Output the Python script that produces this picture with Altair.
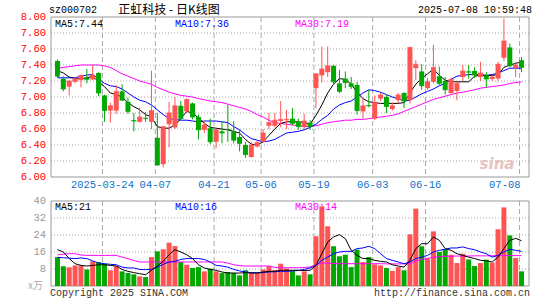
import altair as alt
import pandas as pd

# ---------------- data ----------------
dates = ["2025-03-12","2025-03-13","2025-03-14","2025-03-17","2025-03-18","2025-03-19","2025-03-20","2025-03-21",
         "2025-03-24","2025-03-25","2025-03-26","2025-03-27","2025-03-28","2025-03-31","2025-04-01","2025-04-02",
         "2025-04-03","2025-04-07","2025-04-08","2025-04-09","2025-04-10","2025-04-11","2025-04-14","2025-04-15",
         "2025-04-16","2025-04-17","2025-04-18","2025-04-21","2025-04-22","2025-04-23","2025-04-24","2025-04-25",
         "2025-04-28","2025-04-29","2025-04-30","2025-05-06","2025-05-07","2025-05-08","2025-05-09","2025-05-12",
         "2025-05-13","2025-05-14","2025-05-15","2025-05-16","2025-05-19","2025-05-20","2025-05-21","2025-05-22",
         "2025-05-23","2025-05-26","2025-05-27","2025-05-28","2025-05-29","2025-05-30","2025-06-03","2025-06-04",
         "2025-06-05","2025-06-06","2025-06-09","2025-06-10","2025-06-11","2025-06-12","2025-06-13","2025-06-16",
         "2025-06-17","2025-06-18","2025-06-19","2025-06-20","2025-06-23","2025-06-24","2025-06-25","2025-06-26",
         "2025-06-27","2025-06-30","2025-07-01","2025-07-02","2025-07-03","2025-07-04","2025-07-07","2025-07-08"]

opens = [7.45,7.23,7.13,7.19,7.21,7.24,7.22,7.30,7.02,6.83,6.83,7.07,6.94,6.71,6.69,6.74,6.69,6.49,6.16,6.66,
         6.62,6.89,6.82,6.92,6.75,6.59,6.61,6.44,6.57,6.60,6.57,6.50,6.40,6.25,6.38,6.44,6.64,6.64,6.70,6.71,
         6.73,6.69,6.63,6.68,7.11,7.27,7.31,7.39,7.17,7.23,7.17,7.15,6.82,6.90,6.73,6.98,7.00,6.85,6.96,7.05,
         6.96,7.36,7.32,7.11,7.19,7.26,7.20,7.05,7.075,7.25,7.32,7.325,7.25,7.27,7.225,7.23,7.49,7.62,7.36,7.46]
highs = [7.47,7.26,7.21,7.24,7.28,7.35,7.40,7.31,7.03,6.93,7.15,7.16,6.99,6.80,6.87,6.81,7.33,6.80,6.63,6.94,
         7.00,6.95,6.98,6.93,6.78,6.69,6.73,6.60,6.70,6.90,6.70,6.59,6.44,6.44,6.45,6.60,6.80,6.80,6.95,6.84,
         6.86,6.73,6.79,6.71,7.29,7.63,7.63,7.40,7.34,7.32,7.25,7.19,6.98,7.09,7.02,7.05,7.03,6.93,7.05,7.06,
         7.62,7.46,7.41,7.24,7.65,7.38,7.25,7.24,7.19,7.40,7.40,7.37,7.44,7.31,7.27,7.44,7.98,7.67,7.44,7.50]
lows = [7.24,7.07,7.02,7.17,7.12,7.17,7.21,7.01,6.69,6.68,6.79,6.95,6.79,6.57,6.68,6.69,6.60,6.14,6.12,6.37,
        6.60,6.72,6.80,6.72,6.47,6.55,6.41,6.36,6.42,6.44,6.42,6.32,6.24,6.24,6.37,6.43,6.60,6.62,6.62,6.60,
        6.65,6.59,6.60,6.59,6.86,7.18,7.25,7.15,7.05,7.11,7.10,6.78,6.73,6.87,6.71,6.95,6.80,6.83,6.92,6.86,
        6.92,7.21,7.09,7.09,7.17,7.15,7.03,7.03,6.96,7.20,7.23,7.24,7.20,7.12,7.20,7.20,7.45,7.37,7.25,7.31]
closes = [7.26,7.10,7.20,7.23,7.27,7.22,7.27,7.05,6.83,6.89,7.07,6.96,6.82,6.70,6.75,6.73,6.83,6.15,6.63,6.80,
          6.89,6.73,6.97,6.75,6.59,6.65,6.44,6.59,6.55,6.59,6.46,6.42,6.28,6.40,6.43,6.55,6.68,6.71,6.72,6.72,
          6.67,6.63,6.70,6.63,7.29,7.35,7.39,7.19,7.07,7.18,7.13,6.83,6.89,6.89,6.93,7.025,6.88,6.89,7.025,6.95,
          7.62,7.41,7.14,7.19,7.37,7.17,7.09,7.22,7.17,7.325,7.31,7.275,7.30,7.225,7.25,7.41,7.70,7.39,7.40,7.37]
volumes = [13.6,9.3,8.8,9.7,9.7,7.8,11.6,11.3,10.5,7.4,9.3,6.9,6.1,5.5,4.5,4.2,13.6,16.3,17.3,20.4,
           18.8,11.3,10.0,8.5,8.9,6.9,8.2,6.9,6.1,6.6,6.1,5.0,7.4,6.3,6.3,7.8,9.3,7.5,10.5,8.2,
           7.0,5.0,6.9,5.5,23.4,37.5,28.1,18.7,14.0,14.7,8.9,17.1,11.3,13.6,10.2,9.7,8.5,7.1,8.9,7.4,
           24.3,36.4,18.7,12.9,25.7,16.0,17.3,14.7,10.8,15.2,12.5,9.4,10.8,12.4,11.0,26.7,37.0,23.8,13.2,6.9]
ma5 = [7.33,7.30,7.25,7.23,7.23,7.24,7.26,7.19,7.13,7.05,7.03,7.00,6.93,6.88,6.84,6.78,6.75,6.63,6.61,6.61,
       6.65,6.73,6.82,6.80,6.74,6.67,6.62,6.61,6.60,6.59,6.57,6.55,6.47,6.41,6.40,6.44,6.52,6.60,6.67,6.69,
       6.69,6.69,6.68,6.66,6.77,6.90,7.05,7.16,7.23,7.22,7.16,7.06,6.98,6.94,6.93,6.92,6.92,6.92,6.92,6.93,
       7.05,7.16,7.23,7.29,7.35,7.27,7.21,7.19,7.19,7.19,7.19,7.26,7.27,7.27,7.27,7.28,7.37,7.40,7.42,7.44]
ma10 = [7.24,7.24,7.24,7.24,7.26,7.275,7.28,7.23,7.17,7.14,7.13,7.10,7.05,7.00,6.96,6.94,6.90,6.84,6.78,6.73,
        6.72,6.71,6.71,6.70,6.69,6.70,6.70,6.70,6.69,6.68,6.63,6.59,6.53,6.48,6.46,6.44,6.45,6.47,6.51,6.55,
        6.56,6.57,6.59,6.62,6.66,6.72,6.77,6.85,6.90,6.93,6.95,7.00,7.05,7.09,7.08,7.06,7.03,7.00,6.98,6.95,
        6.96,7.00,7.04,7.07,7.10,7.14,7.17,7.22,7.26,7.27,7.28,7.28,7.28,7.27,7.28,7.30,7.33,7.36,7.36,7.36]
ma30 = [7.36,7.37,7.38,7.39,7.40,7.40,7.40,7.40,7.39,7.37,7.33,7.29,7.26,7.23,7.20,7.18,7.16,7.12,7.09,7.06,
        7.04,7.02,7.01,7.00,6.98,6.965,6.95,6.94,6.93,6.91,6.89,6.87,6.85,6.82,6.78,6.75,6.71,6.68,6.67,6.66,
        6.65,6.64,6.63,6.63,6.64,6.66,6.68,6.69,6.70,6.71,6.71,6.72,6.72,6.73,6.74,6.75,6.76,6.77,6.79,6.82,
        6.85,6.88,6.91,6.94,6.97,6.99,7.01,7.03,7.05,7.06,7.075,7.09,7.11,7.12,7.13,7.14,7.15,7.17,7.18,7.19]
vma5 = [17.1,16.0,12.9,10.5,9.7,9.4,9.7,10.0,10.0,9.7,9.4,7.8,6.9,6.3,5.8,5.3,7.4,9.4,11.6,14.7,
        17.1,16.0,14.7,12.9,10.0,8.5,7.8,7.4,6.6,6.1,6.1,6.1,6.3,6.1,6.1,6.6,6.9,6.9,7.4,7.4,
        7.4,7.4,7.3,7.4,9.7,15.2,20.7,23.1,24.2,22.3,16.8,14.4,12.9,12.9,12.1,11.6,11.3,10.0,9.4,8.9,
        12.1,17.6,19.9,19.9,23.1,21.5,17.6,16.8,15.2,14.4,13.6,12.9,12.1,11.8,11.3,13.6,17.6,21.5,22.4,21.3]
vma10 = [13.5,13.3,13.1,12.9,13.2,12.9,11.8,10.8,10.5,10.2,10.0,8.9,8.5,8.5,7.8,7.7,7.8,8.9,10.2,11.3,
         11.6,12.5,12.9,12.9,12.9,12.5,11.3,9.7,9.4,8.9,7.8,7.1,6.6,6.3,6.2,6.3,6.6,6.7,6.9,6.9,
         7.1,7.3,7.8,8.5,9.7,12.1,13.6,15.2,16.0,16.3,16.3,17.6,17.9,18.7,17.6,15.2,12.9,12.1,11.3,10.5,
         11.3,12.9,13.6,14.4,16.0,16.8,17.3,17.9,17.9,18.4,17.6,17.1,16.0,15.2,13.6,14.4,16.0,17.3,16.8,16.3]
vma30 = [14.7,15.0,15.2,15.2,14.6,14.4,14.4,14.4,14.4,14.4,14.4,13.6,12.9,12.0,11.3,11.3,11.3,11.3,11.3,11.3,
         11.3,11.3,11.3,11.3,11.3,11.3,11.3,11.3,11.3,10.8,10.0,9.6,9.4,9.4,9.4,9.4,9.4,8.8,8.6,8.6,
         8.6,8.6,8.7,8.9,10.0,10.8,10.8,10.6,10.5,10.5,10.5,10.5,10.5,10.5,10.5,10.5,10.4,10.4,10.4,10.4,
         10.4,11.8,12.5,13.0,13.5,13.8,14.0,14.0,14.1,14.1,14.1,14.2,14.2,14.2,14.2,14.3,14.3,14.3,14.3,14.3]

price_ticks = [6.00,6.20,6.40,6.60,6.80,7.00,7.20,7.40,7.60,7.80,8.00]
vol_ticks = [8,16,24,32,40]
date_ticks = ["2025-03-24","2025-04-07","2025-04-21","2025-05-06","2025-05-19","2025-06-03","2025-06-16","2025-07-08"]
date_tick_labels = ["2025-03-24","04-07","04-21","05-06","05-19","06-03","06-16","07-08"]

code = "sz000702"
title = "正虹科技 - 日K线图"
stamp = "2025-07-08 10:59:48"

# ---------------- styling ----------------
RED = "#ff5454"
GREEN = "#00a800"
GRID = "#a8a8a8"
FRAME = "#999999"
MONO = "Liberation Mono"
W, PH, VTOP, H = 478, 160, 184, 269

df = pd.DataFrame({"i": range(len(dates)), "date": dates, "open": opens, "high": highs, "low": lows,
                   "close": closes, "vol": volumes, "ma5": ma5, "ma10": ma10, "ma30": ma30,
                   "vma5": vma5, "vma10": vma10, "vma30": vma30})
df["dir"] = ["up" if c >= o else "down" for o, c in zip(opens, closes)]

XS = alt.Scale(domain=[-0.25, (W - 1.5) / 6.0], nice=False, zero=False)
PY = alt.Scale(domain=[6.0, 8.0], range=[PH, 0], nice=False, zero=False)
VY = alt.Scale(domain=[0, 40], range=[H, VTOP], nice=False, zero=True)
X = alt.X("i:Q", scale=XS, axis=None)
COL = alt.Color("dir:N", scale=alt.Scale(domain=["up", "down"], range=[RED, GREEN]), legend=None)

one = pd.DataFrame({"k": [0]})
ticks_df = pd.DataFrame({"i": [dates.index(d) for d in date_ticks], "lab": date_tick_labels})
ptick_df = pd.DataFrame({"v": price_ticks})
vtick_df = pd.DataFrame({"v": vol_ticks})

def frame(y0, y1):
    return alt.Chart(one).mark_rect(fillOpacity=0, stroke=FRAME, strokeWidth=1).encode(
        x=alt.value(0), x2=alt.value(W), y=alt.value(y0), y2=alt.value(y1))

def label(txt, x, y, color="black", align="left", size=10, font=MONO, **kw):
    return alt.Chart(pd.DataFrame({"t": [txt]})).mark_text(
        align=align, baseline="middle", color=color, fontSize=size, font=font, **kw).encode(
        text="t:N", x=alt.value(x), y=alt.value(y))

# ---------- price panel ----------
p_grid = alt.Chart(ptick_df[(ptick_df.v > 6.0) & (ptick_df.v < 8.0)]).mark_rule(
    color=GRID, strokeDash=[1, 2], strokeWidth=1).encode(
    y=alt.Y("v:Q", scale=PY, axis=None), x=alt.value(0), x2=alt.value(W))
p_vlines = alt.Chart(ticks_df).mark_rule(color=GRID, strokeDash=[5, 3], strokeWidth=1, xOffset=-2).encode(
    x=X, y=alt.value(0), y2=alt.value(PH))
p_labels = alt.Chart(ptick_df).mark_text(align="right", baseline="middle", color="#ff0000",
                                        fontSize=10.5, font=MONO).encode(
    y=alt.Y("v:Q", scale=PY, axis=None), x=alt.value(-5), text=alt.Text("v:Q", format=".2f"))
wicks = alt.Chart(df).mark_rule(strokeWidth=1).encode(
    x=X, y=alt.Y("low:Q", scale=PY, axis=None), y2="high:Q", color=COL)
bodies = alt.Chart(df).mark_bar(size=5).encode(
    x=X, y=alt.Y("open:Q", scale=PY, axis=None), y2="close:Q", color=COL)
flat = alt.Chart(df).mark_tick(orient="horizontal", size=5, thickness=1).encode(
    x=X, y=alt.Y("close:Q", scale=PY, axis=None), color=COL)

def pline(field, color):
    return alt.Chart(df).mark_line(color=color, strokeWidth=1).encode(
        x=X, y=alt.Y(field + ":Q", scale=PY, axis=None))

date_lbl = alt.Chart(ticks_df.iloc[:-1]).mark_text(
    align="center", baseline="middle", color="#1070c8", fontSize=10.5, font=MONO, xOffset=-2).encode(
    x=X, y=alt.value(168), text="lab:N")
date_last = alt.Chart(ticks_df.iloc[-1:]).mark_text(
    align="right", baseline="middle", color="#1070c8", fontSize=10.5, font=MONO, xOffset=-1).encode(
    x=X, y=alt.value(168), text="lab:N")

price = alt.layer(
    p_grid, p_vlines, frame(0, PH), p_labels,
    pline("ma30", "#ff00ff"), pline("ma10", "#0000ff"), pline("ma5", "#000000"),
    wicks, bodies, flat,
    label(f"MA5:{ma5[-1]:.2f}", 4, 7),
    label(f"MA10:{ma10[-1]:.2f}", 124, 7, color="#0000ff"),
    label(f"MA30:{ma30[-1]:.2f}", 244, 7, color="#ff00ff"),
    date_lbl, date_last,
    label("sina", 446, 147, color="#e6c3c3", size=15, font="DejaVu Sans", align="center",
          fontStyle="italic", fontWeight="bold"),
)

# ---------- volume panel ----------
v_grid = alt.Chart(vtick_df[vtick_df.v < 40]).mark_rule(
    color=GRID, strokeDash=[1, 2], strokeWidth=1).encode(
    y=alt.Y("v:Q", scale=VY, axis=None), x=alt.value(0), x2=alt.value(W))
v_vlines = alt.Chart(ticks_df).mark_rule(color=GRID, strokeDash=[5, 3], strokeWidth=1, xOffset=-2).encode(
    x=X, y=alt.value(VTOP), y2=alt.value(H))
v_labels = alt.Chart(vtick_df).mark_text(align="right", baseline="middle", color="#999999",
                                        fontSize=10.5, font=MONO).encode(
    y=alt.Y("v:Q", scale=VY, axis=None), x=alt.value(-5), text=alt.Text("v:Q", format="d"))
vbars = alt.Chart(df).mark_bar(size=5).encode(
    x=X, y=alt.Y("vol:Q", scale=VY, axis=None), color=COL)

def vline(field, color):
    return alt.Chart(df).mark_line(color=color, strokeWidth=1).encode(
        x=X, y=alt.Y(field + ":Q", scale=VY, axis=None))

vol = alt.layer(
    v_grid, v_vlines, frame(VTOP, H), v_labels, vbars,
    vline("vma30", "#ff00ff"), vline("vma10", "#0000ff"), vline("vma5", "#000000"),
    label(f"MA5:{round(vma5[-1])}", 4, VTOP + 6),
    label(f"MA10:{round(vma10[-1])}", 124, VTOP + 6, color="#0000ff"),
    label(f"MA30:{round(vma30[-1])}", 244, VTOP + 6, color="#ff00ff"),
    label("x万", -8, H, color="#aaaaaa", align="right", size=10, font="Noto Sans CJK SC"),
    label("Copyright 2025 SINA.COM", -1, H + 7, color="#333333"),
    label("http://finance.sina.com.cn", W + 1, H + 7, color="#333333", align="right"),
)

header = alt.layer(
    label(code, -2, -7),
    label(title, 118, -7, align="center", size=12, font="Noto Sans CJK SC"),
    label(stamp, 481, -7, align="right"),
)

chart = alt.layer(price, vol, header).resolve_scale(y="independent").properties(
    width=W, height=H,
    padding={"left": 51, "top": 17, "right": 16, "bottom": 14},
    autosize=alt.AutoSizeParams(type="none"),
    background="white",
).configure_view(stroke=None)

chart.save("out.html", embed_options={"renderer": "svg", "actions": False})
